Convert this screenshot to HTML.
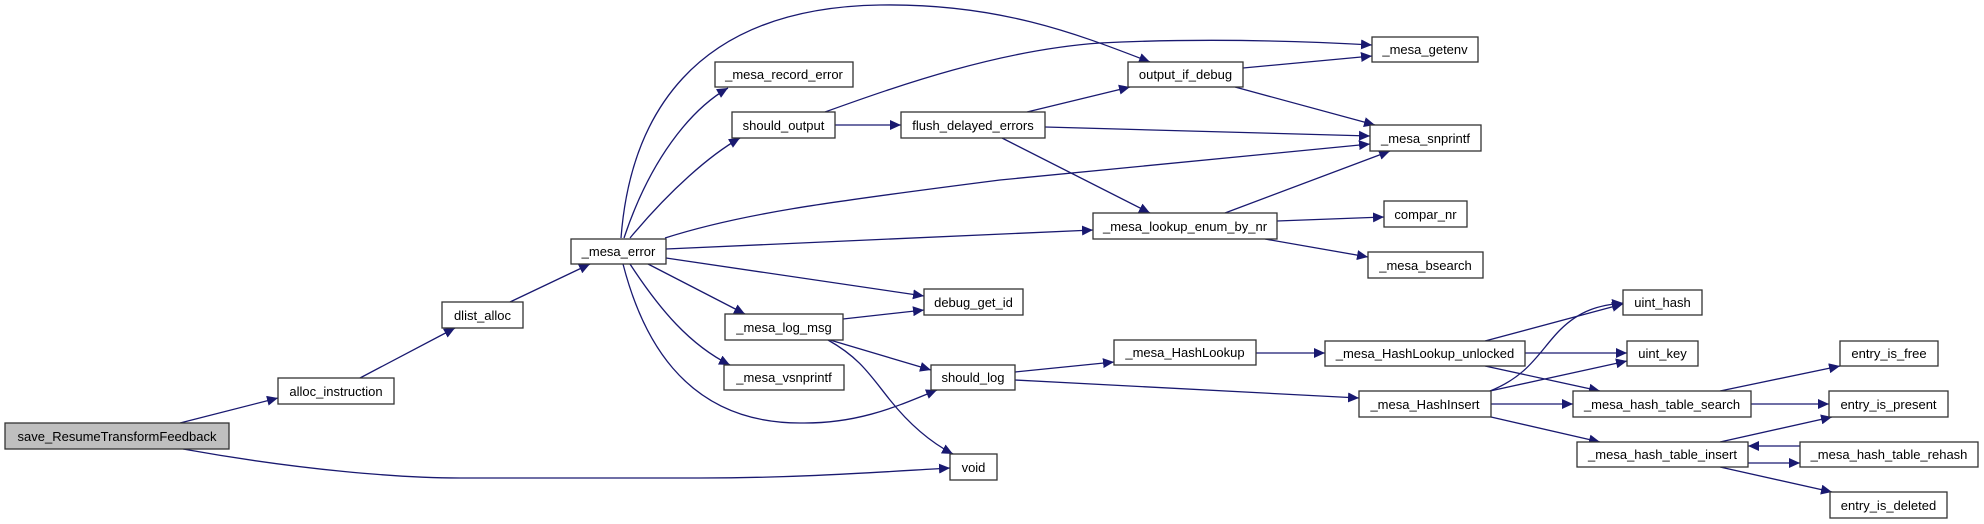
<!DOCTYPE html>
<html><head><meta charset="utf-8"><style>
html,body{margin:0;padding:0;background:#fff;}
svg{display:block;}
text{font-family:"Liberation Sans",Arial,sans-serif;font-size:13px;fill:#000;}
.b{fill:#fff;stroke:#333;stroke-width:1.3;}
.e{fill:none;stroke:#191970;stroke-width:1.3;}
</style></head><body>
<svg width="1984" height="524" viewBox="0 0 1984 524" xmlns="http://www.w3.org/2000/svg">
<defs>
<marker id="a" markerUnits="userSpaceOnUse" markerWidth="12" markerHeight="10" refX="11" refY="5" orient="auto">
<path d="M0,0 L11,5 L0,10 Z" fill="#191970"/>
</marker>
</defs>
<g class="e" marker-end="url(#a)">
<path d="M180,423 L278,398"/>
<path d="M183,449 C300,470 400,478 460,478 L700,478 C800,478 880,472 950,468"/>
<path d="M360,378 L455,328"/>
<path d="M510,302 L590,264"/>
<path d="M621,238 C630,120 690,8 880,5 C1000,3 1080,35 1150,62"/>
<path d="M624,238 C650,160 690,110 728,88"/>
<path d="M630,238 C670,190 710,155 740,138"/>
<path d="M665,238 C740,214 820,203 1000,180 L1370,144"/>
<path d="M666,249 L1093,230"/>
<path d="M666,258 L924,296"/>
<path d="M648,264 L745,314"/>
<path d="M630,264 C660,310 690,345 730,365"/>
<path d="M623,264 C640,330 680,423 800,423 C860,424 900,405 937,390"/>
<path d="M835,125 L901,125"/>
<path d="M825,112 C900,85 1000,50 1100,43 C1200,38 1300,41 1372,45"/>
<path d="M1027,112 L1130,87"/>
<path d="M1045,127 L1370,136"/>
<path d="M1002,138 L1150,213"/>
<path d="M1243,68 L1372,56"/>
<path d="M1235,87 L1375,125"/>
<path d="M1225,213 L1390,151"/>
<path d="M1277,221 L1384,217"/>
<path d="M1265,239 L1368,257"/>
<path d="M843,319 L924,310"/>
<path d="M830,340 L931,370"/>
<path d="M828,340 C860,358 870,375 890,400 C910,425 930,442 953,454"/>
<path d="M1015,372 L1114,362"/>
<path d="M1015,380 L1359,398"/>
<path d="M1256,353 L1325,353"/>
<path d="M1485,341 L1623,304"/>
<path d="M1525,353 L1627,353"/>
<path d="M1485,366 L1600,391"/>
<path d="M1490,391 C1530,375 1540,350 1560,330 C1580,310 1600,305 1623,303"/>
<path d="M1490,391 L1627,361"/>
<path d="M1491,404 L1573,404"/>
<path d="M1491,417 L1600,442"/>
<path d="M1720,391 L1840,366"/>
<path d="M1751,404 L1829,404"/>
<path d="M1720,442 L1832,417"/>
<path d="M1748,463 L1800,463"/>
<path d="M1800,446 L1748,446"/>
<path d="M1720,467 L1832,492"/>
</g>
<g>
<rect x="5" y="423" width="224" height="26" style="fill:#bfbfbf;stroke:#333;stroke-width:1.3"/><text x="117" y="441" text-anchor="middle">save_ResumeTransformFeedback</text>
<rect class="b" x="278" y="378" width="116" height="26"/><text x="336" y="396" text-anchor="middle">alloc_instruction</text>
<rect class="b" x="442" y="302" width="81" height="26"/><text x="482.5" y="320" text-anchor="middle">dlist_alloc</text>
<rect class="b" x="571" y="239" width="95" height="25"/><text x="618.5" y="256" text-anchor="middle">_mesa_error</text>
<rect class="b" x="715" y="62" width="138" height="25"/><text x="784" y="79" text-anchor="middle">_mesa_record_error</text>
<rect class="b" x="732" y="112" width="103" height="26"/><text x="783.5" y="130" text-anchor="middle">should_output</text>
<rect class="b" x="725" y="314" width="118" height="26"/><text x="784" y="332" text-anchor="middle">_mesa_log_msg</text>
<rect class="b" x="724" y="365" width="120" height="25"/><text x="784" y="382" text-anchor="middle">_mesa_vsnprintf</text>
<rect class="b" x="1128" y="62" width="115" height="25"/><text x="1185.5" y="79" text-anchor="middle">output_if_debug</text>
<rect class="b" x="1372" y="37" width="106" height="25"/><text x="1425" y="54" text-anchor="middle">_mesa_getenv</text>
<rect class="b" x="901" y="112" width="144" height="26"/><text x="973" y="130" text-anchor="middle">flush_delayed_errors</text>
<rect class="b" x="1370" y="125" width="111" height="26"/><text x="1425.5" y="143" text-anchor="middle">_mesa_snprintf</text>
<rect class="b" x="1093" y="213" width="184" height="26"/><text x="1185" y="231" text-anchor="middle">_mesa_lookup_enum_by_nr</text>
<rect class="b" x="1384" y="201" width="83" height="26"/><text x="1425.5" y="219" text-anchor="middle">compar_nr</text>
<rect class="b" x="1368" y="252" width="115" height="26"/><text x="1425.5" y="270" text-anchor="middle">_mesa_bsearch</text>
<rect class="b" x="924" y="289" width="99" height="26"/><text x="973.5" y="307" text-anchor="middle">debug_get_id</text>
<rect class="b" x="1114" y="340" width="142" height="25"/><text x="1185" y="357" text-anchor="middle">_mesa_HashLookup</text>
<rect class="b" x="1325" y="341" width="200" height="25"/><text x="1425" y="358" text-anchor="middle">_mesa_HashLookup_unlocked</text>
<rect class="b" x="931" y="365" width="84" height="25"/><text x="973" y="382" text-anchor="middle">should_log</text>
<rect class="b" x="1359" y="391" width="132" height="26"/><text x="1425" y="409" text-anchor="middle">_mesa_HashInsert</text>
<rect class="b" x="950" y="454" width="47" height="26"/><text x="973.5" y="472" text-anchor="middle">void</text>
<rect class="b" x="1623" y="290" width="79" height="25"/><text x="1662.5" y="307" text-anchor="middle">uint_hash</text>
<rect class="b" x="1627" y="341" width="71" height="25"/><text x="1662.5" y="358" text-anchor="middle">uint_key</text>
<rect class="b" x="1573" y="391" width="178" height="26"/><text x="1662" y="409" text-anchor="middle">_mesa_hash_table_search</text>
<rect class="b" x="1577" y="442" width="171" height="25"/><text x="1662.5" y="459" text-anchor="middle">_mesa_hash_table_insert</text>
<rect class="b" x="1840" y="341" width="98" height="25"/><text x="1889" y="358" text-anchor="middle">entry_is_free</text>
<rect class="b" x="1829" y="391" width="119" height="26"/><text x="1888.5" y="409" text-anchor="middle">entry_is_present</text>
<rect class="b" x="1800" y="442" width="178" height="25"/><text x="1889" y="459" text-anchor="middle">_mesa_hash_table_rehash</text>
<rect class="b" x="1830" y="492" width="117" height="26"/><text x="1888.5" y="510" text-anchor="middle">entry_is_deleted</text>
</g>
</svg>
</body></html>
